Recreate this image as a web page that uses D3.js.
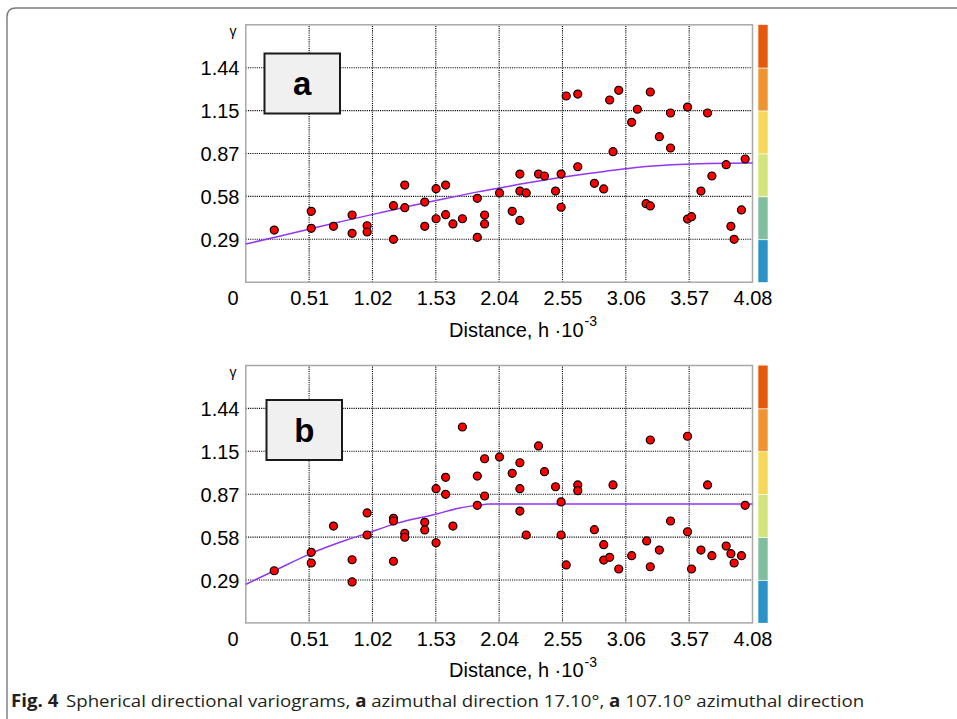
<!DOCTYPE html>
<html>
<head>
<meta charset="utf-8">
<script src="https://cdn.jsdelivr.net/npm/d3@7/dist/d3.min.js"></script>
<style>
  html, body { margin: 0; padding: 0; background: #fff; }
  svg { display: block; }
</style>
</head>
<body>
<svg id="chart" width="957" height="719"></svg>
<script>
// ---------------- DATA ----------------
const xTicks = [0.51, 1.02, 1.53, 2.04, 2.55, 3.06, 3.57, 4.08];
const xTickLabels = ["0.51", "1.02", "1.53", "2.04", "2.55", "3.06", "3.57", "4.08"];
const yTicks = [0.288, 0.576, 0.864, 1.152, 1.44];
const yTickLabels = ["0.29", "0.58", "0.87", "1.15", "1.44"];
const yTop = 1.728;
const colorBands = [0, 0.288, 0.576, 0.864, 1.152, 1.44, 1.728];
const bandColors = ["#2b93c9", "#80be9f", "#d4e47c", "#f6d858", "#ee9532", "#e6580b"];

// Panel a experimental variogram (lag h, gamma)
const aH = [0.229, 0.527, 0.527, 0.706, 0.856, 0.856, 0.977, 0.977, 1.189, 1.189, 1.280, 1.280,
  1.441, 1.441, 1.532, 1.532, 1.609, 1.609, 1.668, 1.744, 1.864, 1.864, 1.923, 1.923, 2.043,
  2.145, 2.207, 2.207, 2.207, 2.258, 2.357, 2.405, 2.494, 2.539, 2.539, 2.580, 2.673, 2.673,
  2.807, 2.882, 2.930, 2.957, 3.003, 3.107, 3.153, 3.223, 3.257, 3.257, 3.330, 3.420, 3.420,
  3.557, 3.557, 3.589, 3.665, 3.718, 3.753, 3.868, 3.906, 3.932, 3.991, 4.021];
const aGamma = [0.350, 0.476, 0.362, 0.375, 0.451, 0.328, 0.379, 0.337, 0.514, 0.288, 0.652, 0.500,
  0.538, 0.375, 0.628, 0.426, 0.652, 0.453, 0.391, 0.426, 0.563, 0.301, 0.451, 0.391, 0.599,
  0.476, 0.726, 0.612, 0.415, 0.599, 0.726, 0.713, 0.612, 0.726, 0.503, 1.250, 1.263, 0.775,
  0.664, 0.626, 1.223, 0.876, 1.288, 1.073, 1.161, 0.527, 1.277, 0.512, 0.977, 1.136, 0.901,
  1.176, 0.424, 0.440, 0.612, 1.136, 0.713, 0.789, 0.375, 0.288, 0.485, 0.827];

// Panel b experimental variogram (lag h, gamma)
const bH = [0.229, 0.527, 0.527, 0.706, 0.856, 0.856, 0.977, 0.977, 1.189, 1.189, 1.189, 1.280,
  1.280, 1.441, 1.441, 1.532, 1.532, 1.609, 1.609, 1.668, 1.744, 1.864, 1.864, 1.923, 1.923,
  2.043, 2.145, 2.207, 2.207, 2.207, 2.258, 2.357, 2.405, 2.494, 2.539, 2.539, 2.580, 2.673,
  2.673, 2.807, 2.882, 2.882, 2.930, 2.957, 3.003, 3.107, 3.228, 3.257, 3.257, 3.330, 3.420,
  3.557, 3.557, 3.589, 3.665, 3.718, 3.753, 3.868, 3.906, 3.932, 3.991, 4.021];
const bGamma = [0.350, 0.474, 0.402, 0.650, 0.424, 0.275, 0.738, 0.590, 0.702, 0.684, 0.414, 0.601,
  0.575, 0.675, 0.624, 0.901, 0.538, 0.977, 0.863, 0.650, 1.315, 0.986, 0.789, 1.102, 0.852,
  1.114, 1.004, 1.075, 0.901, 0.751, 0.590, 1.188, 1.015, 0.914, 0.812, 0.590, 0.389, 0.926,
  0.888, 0.626, 0.525, 0.422, 0.440, 0.926, 0.362, 0.451, 0.550, 1.228, 0.377, 0.489, 0.684,
  1.253, 0.612, 0.362, 0.489, 0.926, 0.451, 0.516, 0.465, 0.402, 0.451, 0.789];

// Fitted spherical model curves
const aCurveH = [0, 0.27, 0.54, 0.81, 1.08, 1.35, 1.62, 1.88, 2.04, 2.2, 2.36, 2.53, 2.9, 3.06, 3.22, 3.65, 4.08];
const aCurveG = [0.256, 0.309, 0.362, 0.415, 0.466, 0.516, 0.563, 0.608, 0.632, 0.657, 0.680, 0.703, 0.745, 0.762, 0.776, 0.796, 0.800];
const bCurveH = [0, 0.229, 0.527, 0.81, 0.972, 1.213, 1.535, 1.722, 1.864, 1.963, 4.08];
const bCurveG = [0.259, 0.350, 0.467, 0.556, 0.601, 0.668, 0.731, 0.772, 0.789, 0.798, 0.798];

const panelLabels = ["a", "b"];
const xLabel = "Distance, h \u00B710";
const xLabelSup = "-3";
const yLabel = "\u03B3";

// ---------------- DRAW ----------------
const svg = d3.select("#chart");
const FONT = "'Liberation Sans', Arial, Helvetica, sans-serif";

// figure frame with rounded top-left corner
svg.append("path")
  .attr("d", "M7,722 L7,17 Q7,8 16,8 L960,8")
  .attr("fill", "none").attr("stroke", "#7a7a7a").attr("stroke-width", 1.4);

const panels = [
  { top: 24.8, bottom: 282.2, h: aH, g: aGamma, ch: aCurveH, cg: aCurveG, label: panelLabels[0],
    box: [264.5, 53.5, 75.5, 60] },
  { top: 365.5, bottom: 622.9, h: bH, g: bGamma, ch: bCurveH, cg: bCurveG, label: panelLabels[1],
    box: [266.5, 400, 75.5, 60] }
];

const left = 245.8, right = 752.5;

panels.forEach(p => {
  const x = d3.scaleLinear().domain([0, 4.08]).range([left, right]);
  const y = d3.scaleLinear().domain([0, yTop]).range([p.bottom, p.top]);
  const g = svg.append("g");

  // grid
  const grid = g.append("g").attr("stroke", "#000").attr("stroke-width", 1.1)
    .attr("stroke-dasharray", "1.1,1.1").attr("fill", "none");
  xTicks.slice(0, -1).forEach(t => {
    grid.append("line").attr("x1", x(t)).attr("x2", x(t)).attr("y1", y(0)).attr("y2", y(yTop));
  });
  yTicks.forEach(t => {
    grid.append("line").attr("x1", x(0)).attr("x2", x(4.08)).attr("y1", y(t)).attr("y2", y(t));
  });

  // axes box
  g.append("rect").attr("x", x(0)).attr("y", y(yTop))
    .attr("width", x(4.08) - x(0)).attr("height", y(0) - y(yTop))
    .attr("fill", "none").attr("stroke", "#a8a8a8").attr("stroke-width", 1.5);

  // x axis tick labels
  const xAxis = d3.axisBottom(x).tickValues(xTicks)
    .tickFormat((d, i) => xTickLabels[i]).tickSize(0).tickPadding(0);
  const xa = g.append("g").attr("transform", `translate(0,${p.bottom})`).call(xAxis);
  xa.select(".domain").remove();
  xa.selectAll("text").attr("font-family", FONT).attr("font-size", 20).attr("fill", "#000")
    .attr("dy", null).attr("y", 22.8);

  // "0" label
  g.append("text").attr("x", 238.5).attr("y", p.bottom + 22.8)
    .attr("text-anchor", "end").attr("font-family", FONT).attr("font-size", 20).text("0");

  // y axis tick labels
  const yAxis = d3.axisLeft(y).tickValues(yTicks)
    .tickFormat((d, i) => yTickLabels[i]).tickSize(0).tickPadding(0);
  const ya = g.append("g").attr("transform", `translate(239.5,0)`).call(yAxis);
  ya.select(".domain").remove();
  ya.selectAll("text").attr("font-family", FONT).attr("font-size", 20).attr("fill", "#000")
    .attr("x", 0).attr("dy", "0.36em");

  // gamma label
  g.append("text").attr("x", 236.5).attr("y", y(yTop) + 11.5)
    .attr("text-anchor", "end").attr("font-family", FONT).attr("font-size", 14).text(yLabel);

  // x label
  const xl = g.append("text").attr("x", 449).attr("y", p.bottom + 54.5)
    .attr("font-family", FONT).attr("font-size", 20).attr("fill", "#000");
  xl.append("tspan").text(xLabel);
  xl.append("tspan").attr("font-size", 14).attr("dy", -10.5).attr("dx", 1).text(xLabelSup);

  // colorbar
  const cb = g.append("g");
  for (let i = 0; i < bandColors.length; i++) {
    cb.append("rect").attr("x", 758.3).attr("width", 9.4)
      .attr("y", y(colorBands[i + 1]) + (i < bandColors.length - 1 ? 0.8 : 0))
      .attr("height", y(colorBands[i]) - y(colorBands[i + 1]) - (i < bandColors.length - 1 ? 0.8 : 0))
      .attr("fill", bandColors[i]);
  }

  // model curve
  const line = d3.line().x(d => x(d[0])).y(d => y(d[1])).curve(d3.curveMonotoneX);
  g.append("path").datum(p.ch.map((h, i) => [h, p.cg[i]]))
    .attr("d", line).attr("fill", "none").attr("stroke", "#9236f5").attr("stroke-width", 1.5);

  // points
  g.append("g").selectAll("circle").data(p.h.map((h, i) => [h, p.g[i]])).join("circle")
    .attr("cx", d => x(d[0])).attr("cy", d => y(d[1])).attr("r", 4)
    .attr("fill", "#ff0000").attr("stroke", "#000").attr("stroke-width", 1.2);

  // panel label box
  g.append("rect").attr("x", p.box[0]).attr("y", p.box[1]).attr("width", p.box[2]).attr("height", p.box[3])
    .attr("fill", "#f0f0f0").attr("stroke", "#1a1a1a").attr("stroke-width", 2);
  g.append("text").attr("x", p.box[0] + p.box[2] / 2).attr("y", p.box[1] + 41.5)
    .attr("text-anchor", "middle").attr("font-family", FONT).attr("font-weight", "bold")
    .attr("font-size", 33).text(p.label);
});

// caption
const cap = svg.append("text").attr("font-family", "'Open Sans', 'Noto Sans', sans-serif")
  .attr("font-size", 17).attr("fill", "#231f20");
cap.append("tspan").attr("font-weight", "bold").text("Fig. 4");
cap.append("tspan").attr("dx", 7).text("Spherical directional variograms, ");
cap.append("tspan").attr("font-weight", "bold").text("a");
cap.append("tspan").text(" azimuthal direction 17.10°, ");
cap.append("tspan").attr("font-weight", "bold").text("a");
cap.append("tspan").text(" 107.10° azimuthal direction");
const w = cap.node().getComputedTextLength();
cap.attr("transform", `translate(11,707.3) scale(${846 / w},1)`);
</script>
</body>
</html>
